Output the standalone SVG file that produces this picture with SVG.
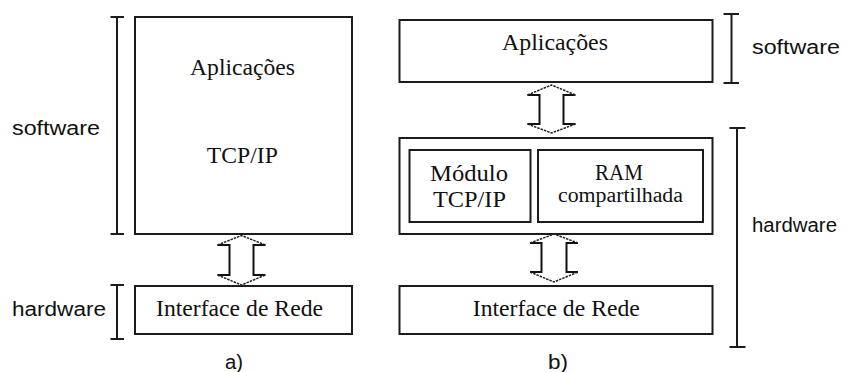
<svg xmlns="http://www.w3.org/2000/svg" width="848" height="372" viewBox="0 0 848 372">
  <defs>
    <style>
      .box { fill: #fff; stroke: #1c1c1c; stroke-width: 2; }
      .bar { fill: none; stroke: #1c1c1c; stroke-width: 2; }
      .shaft { fill: none; stroke: #111; stroke-width: 2; }
      .head { fill: none; stroke: #222; stroke-width: 1.5; stroke-dasharray: 2.5 1; }
      .srf { font-family: "Liberation Serif", "Times New Roman", serif; font-size: 23px; fill: #111; text-anchor: middle; }
      .srf-s { font-family: "Liberation Serif", "Times New Roman", serif; font-size: 20px; fill: #111; text-anchor: middle; }
      .sans { font-family: "Liberation Sans", Arial, sans-serif; font-size: 20px; fill: #111; }
    </style>
  </defs>

  <rect width="848" height="372" fill="#fff"/>

  <!-- a) software stack running on the host -->
  <g id="a-stack">
    <rect class="box" x="135" y="17" width="217" height="217"/>
    <text class="srf" x="242.5" y="75" textLength="105" lengthAdjust="spacingAndGlyphs">Aplicações</text>
    <text class="srf" x="242.3" y="163" textLength="71" lengthAdjust="spacingAndGlyphs">TCP/IP</text>
  </g>
  <g id="a-interface">
    <rect class="box" x="135" y="286" width="217" height="48"/>
    <text class="srf" x="239.5" y="316" textLength="167" lengthAdjust="spacingAndGlyphs">Interface de Rede</text>
  </g>

  <!-- b) protocol offloaded to a hardware module -->
  <g id="b-apps">
    <rect class="box" x="399.5" y="20" width="313" height="62"/>
    <text class="srf" x="555" y="50" textLength="106" lengthAdjust="spacingAndGlyphs">Aplicações</text>
  </g>
  <g id="b-hw">
    <rect class="box" x="399.5" y="138" width="313" height="96"/>
    <g id="b-tcp">
      <rect class="box" x="409.5" y="150" width="121" height="72"/>
      <text class="srf" x="469" y="181" textLength="78" lengthAdjust="spacingAndGlyphs">Módulo</text>
      <text class="srf" x="469.5" y="207" textLength="73" lengthAdjust="spacingAndGlyphs">TCP/IP</text>
    </g>
    <g id="b-ram">
      <rect class="box" x="538" y="150" width="165" height="72"/>
      <text class="srf" x="619" y="180" textLength="48" lengthAdjust="spacingAndGlyphs">RAM</text>
      <text class="srf-s" x="620.5" y="202" textLength="125" lengthAdjust="spacingAndGlyphs">compartilhada</text>
    </g>
  </g>
  <g id="b-interface">
    <rect class="box" x="399.5" y="286" width="313" height="48"/>
    <text class="srf" x="556.3" y="316" textLength="167" lengthAdjust="spacingAndGlyphs">Interface de Rede</text>
  </g>

  <!-- double-headed block arrows -->
  <g id="connectors">
    <g transform="translate(241.5 0)">
      <path class="shaft" d="M-24,245 H-12 V275 H-24 M24,245 H12 V275 H24"/>
      <path class="head" d="M-24,245 L0,235.5 L24,245 M-24,275 L0,285 L24,275"/>
    </g>
    <g transform="translate(551.5 0)">
      <path class="shaft" d="M-24,95 H-12 V124 H-24 M24,95 H12 V124 H24"/>
      <path class="head" d="M-24,95 L0,85 L24,95 M-24,124 L0,133 L24,124"/>
    </g>
    <g transform="translate(554 0)">
      <path class="shaft" d="M-24,243 H-12.5 V272 H-24 M24,243 H12.5 V272 H24"/>
      <path class="head" d="M-24,243 L0,234 L24,243 M-24,272 L0,282 L24,272"/>
    </g>
  </g>

  <!-- layer brackets -->
  <g id="brackets">
    <path class="bar" d="M117,17 V234 M110.5,17 H124 M110.5,234 H124"/>
    <path class="bar" d="M117,285 V339 M110.5,285 H124 M110.5,339 H124"/>
    <path class="bar" d="M731.5,14 V83 M723.5,14 H739 M723.5,83 H739"/>
    <path class="bar" d="M737,128 V347 M729.5,128 H745.5 M729.5,347 H745.5"/>
  </g>

  <g id="labels">
    <text class="sans" x="12" y="135" textLength="88" lengthAdjust="spacingAndGlyphs">software</text>
    <text class="sans" x="12" y="316" textLength="94" lengthAdjust="spacingAndGlyphs">hardware</text>
    <text class="sans" x="752" y="54" textLength="88" lengthAdjust="spacingAndGlyphs">software</text>
    <text class="sans" x="752" y="232" textLength="85" lengthAdjust="spacingAndGlyphs">hardware</text>
    <text class="sans" x="225" y="369" textLength="18" lengthAdjust="spacingAndGlyphs">a)</text>
    <text class="sans" x="548" y="369" textLength="20" lengthAdjust="spacingAndGlyphs">b)</text>
  </g>
</svg>
